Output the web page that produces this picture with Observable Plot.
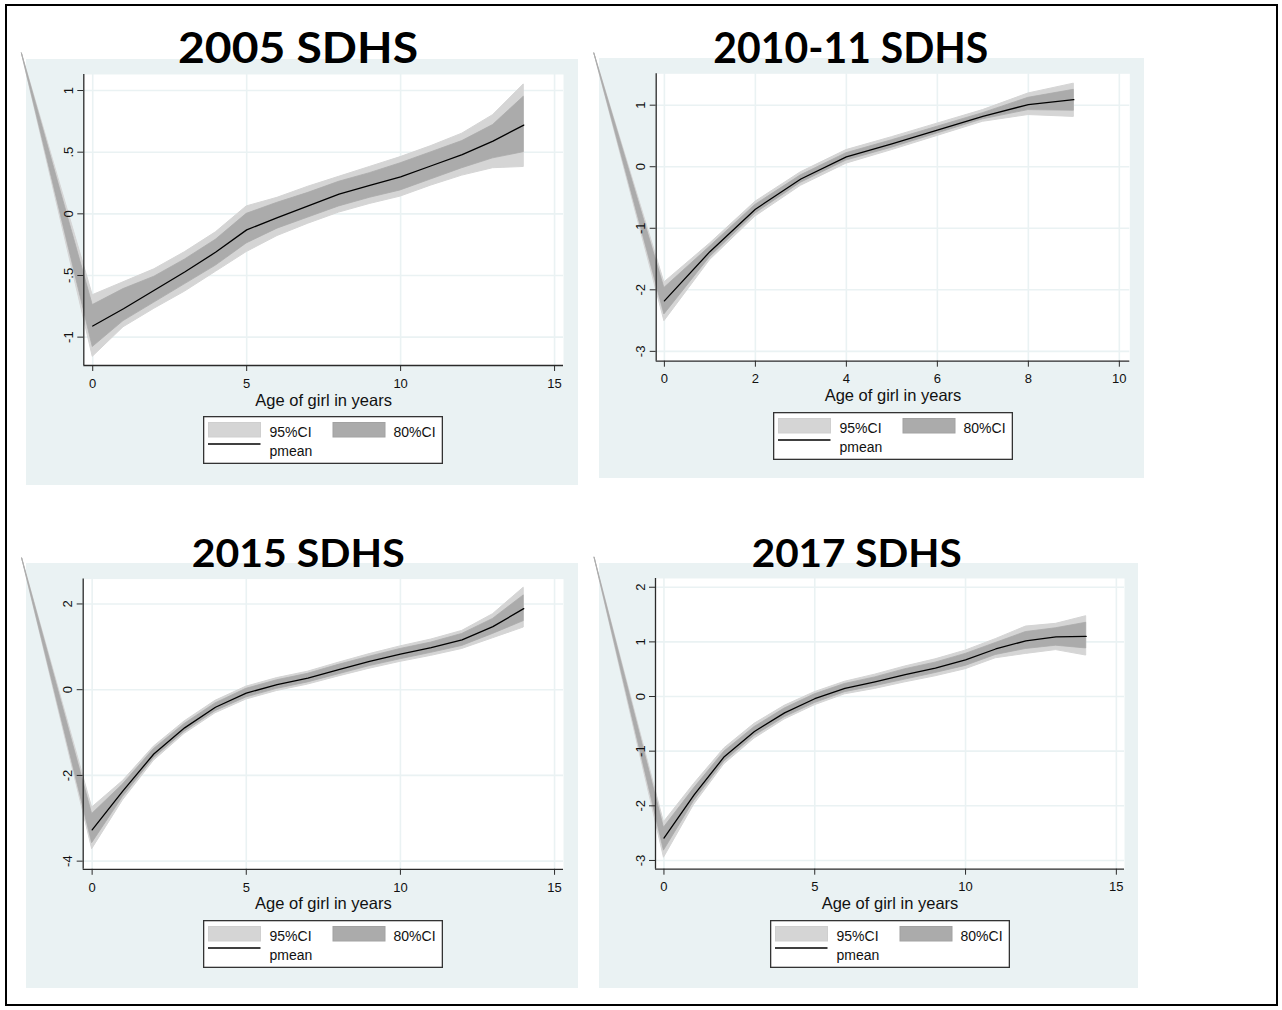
<!DOCTYPE html>
<html>
<head>
<meta charset="utf-8">
<script src="https://cdn.jsdelivr.net/npm/d3@7"></script>
<script src="https://cdn.jsdelivr.net/npm/@observablehq/plot@0.6"></script>
<style>
  html, body { margin: 0; padding: 0; background: #fff; }
  #page { position: relative; width: 1282px; height: 1010px; overflow: hidden;
          font-family: "Liberation Sans", Arial, sans-serif; }
  #border { position: absolute; left: 5px; top: 4px; width: 1273px; height: 1002px;
            border: 2.5px solid #000; box-sizing: border-box; }
  .panel { position: absolute; background: #eaf2f3; }
  .panel > svg { position: absolute; left: 0; top: 0; overflow: visible; }
  .panel > svg.legend { overflow: visible; }
  #titles { position: absolute; left: 0; top: 0; pointer-events: none; }
</style>
</head>
<body>
<div id="page">
  <div id="border"></div>
</div>
<script>
// Posterior mean of the age effect with 80% and 95% credible bands, by survey round.
const xTitle = "Age of girl in years";
const legendLabels = ["95%CI", "80%CI", "pmean"];

// 2005 SDHS
const title05 = "2005 SDHS";
const age05 = [0, 1, 2, 3, 4, 5, 6, 7, 8, 9, 10, 11, 12, 13, 14];
const mean05 = [-0.91, -0.77, -0.62, -0.47, -0.31, -0.13, -0.03, 0.065, 0.16, 0.23, 0.30, 0.39, 0.48, 0.59, 0.72];
const lo95_05 = [-1.16, -0.92, -0.77, -0.63, -0.47, -0.31, -0.18, -0.08, 0.01, 0.08, 0.14, 0.23, 0.31, 0.37, 0.38];
const hi95_05 = [-0.66, -0.555, -0.45, -0.31, -0.15, 0.06, 0.13, 0.22, 0.30, 0.38, 0.46, 0.55, 0.65, 0.80, 1.05];
const lo80_05 = [-1.08, -0.87, -0.72, -0.57, -0.42, -0.24, -0.12, -0.03, 0.06, 0.13, 0.19, 0.28, 0.37, 0.45, 0.50];
const hi80_05 = [-0.74, -0.61, -0.51, -0.37, -0.21, 0.0, 0.09, 0.17, 0.26, 0.33, 0.41, 0.50, 0.59, 0.72, 0.95];
const lead05 = [-2.3, 1.30];
const xTicks05 = [0, 5, 10, 15];
const yTicks05 = [-1, -0.5, 0, 0.5, 1];

// 2010-11 SDHS
const title10 = "2010-11 SDHS";
const age10 = [0, 1, 2, 3, 4, 5, 6, 7, 8, 9];
const mean10 = [-2.18, -1.38, -0.69, -0.20, 0.16, 0.37, 0.595, 0.82, 1.01, 1.09];
const lo95_10 = [-2.51, -1.52, -0.81, -0.31, 0.05, 0.27, 0.50, 0.73, 0.84, 0.81];
const hi95_10 = [-1.88, -1.25, -0.57, -0.09, 0.27, 0.48, 0.70, 0.92, 1.19, 1.35];
const lo80_10 = [-2.40, -1.47, -0.76, -0.26, 0.10, 0.31, 0.54, 0.77, 0.92, 0.91];
const hi80_10 = [-1.97, -1.30, -0.62, -0.14, 0.22, 0.43, 0.65, 0.87, 1.12, 1.25];
const lead10 = [-1.54, 1.84];
const xTicks10 = [0, 2, 4, 6, 8, 10];
const yTicks10 = [-3, -2, -1, 0, 1];

// 2015 SDHS
const title15 = "2015 SDHS";
const age15 = [0, 1, 2, 3, 4, 5, 6, 7, 8, 9, 10, 11, 12, 13, 14];
const mean15 = [-3.27, -2.36, -1.50, -0.89, -0.41, -0.08, 0.12, 0.27, 0.47, 0.66, 0.83, 0.98, 1.16, 1.47, 1.89];
const lo95_15 = [-3.72, -2.58, -1.66, -1.03, -0.55, -0.23, -0.03, 0.12, 0.31, 0.49, 0.65, 0.79, 0.95, 1.20, 1.45];
const hi95_15 = [-2.75, -2.13, -1.33, -0.74, -0.26, 0.07, 0.27, 0.42, 0.63, 0.83, 1.01, 1.17, 1.37, 1.76, 2.38];
const lo80_15 = [-3.58, -2.50, -1.60, -0.98, -0.50, -0.18, 0.02, 0.17, 0.36, 0.55, 0.71, 0.86, 1.02, 1.30, 1.60];
const hi80_15 = [-2.90, -2.21, -1.39, -0.80, -0.32, 0.02, 0.22, 0.37, 0.58, 0.77, 0.95, 1.10, 1.30, 1.65, 2.20];
const lead15 = [-2.27, 3.06];
const xTicks15 = [0, 5, 10, 15];
const yTicks15 = [-4, -2, 0, 2];

// 2017 SDHS
const title17 = "2017 SDHS";
const age17 = [0, 1, 2, 3, 4, 5, 6, 7, 8, 9, 10, 11, 12, 13, 14];
const mean17 = [-2.59, -1.80, -1.10, -0.64, -0.30, -0.04, 0.15, 0.27, 0.40, 0.52, 0.67, 0.87, 1.02, 1.09, 1.10];
const lo95_17 = [-2.95, -1.98, -1.24, -0.77, -0.42, -0.16, 0.04, 0.14, 0.26, 0.37, 0.50, 0.70, 0.78, 0.85, 0.75];
const hi95_17 = [-2.30, -1.60, -0.95, -0.50, -0.17, 0.08, 0.27, 0.40, 0.55, 0.68, 0.84, 1.05, 1.28, 1.33, 1.47];
const lo80_17 = [-2.82, -1.91, -1.19, -0.72, -0.38, -0.12, 0.08, 0.19, 0.31, 0.43, 0.56, 0.76, 0.87, 0.93, 0.88];
const hi80_17 = [-2.40, -1.68, -1.01, -0.56, -0.22, 0.04, 0.23, 0.35, 0.50, 0.62, 0.78, 0.98, 1.18, 1.25, 1.35];
const lead17 = [-2.30, 2.54];
const xTicks17 = [0, 5, 10, 15];
const yTicks17 = [-3, -2, -1, 0, 1, 2];

// Colours (Stata s2color-like scheme)
const BG = "#eaf2f3";
const GRID = "#eaf2f3";
const C95 = "#d5d5d5";
const C80 = "#ababab";
const AXIS = "#2a2a2a";

// Panel geometry: background box on the page, plot frame inside it [left, top, right, bottom]
const panels = [
  {title: title05, age: age05, mean: mean05, lo95: lo95_05, hi95: hi95_05, lo80: lo80_05, hi80: hi80_05, lead: lead05,
   xTicks: xTicks05, yTicks: yTicks05, xDomain: [-0.29, 15.29], yDomain: [-1.23, 1.13],
   left: 26, top: 59, w: 552, h: 426, frame: [57.3, 15, 537, 306], legendTop: 357,
   titleBox: {x: 178, y: 63.3, size: 41.9, width: 240}},
  {title: title10, age: age10, mean: mean10, lo95: lo95_10, hi95: hi95_10, lo80: lo80_10, hi80: hi80_10, lead: lead10,
   xTicks: xTicks10, yTicks: yTicks10, xDomain: [-0.18, 10.23], yDomain: [-3.16, 1.51],
   left: 599, top: 58, w: 545, h: 420, frame: [56.7, 15.3, 530.3, 302.7], legendTop: 353.7,
   titleBox: {x: 713.3, y: 63.3, size: 41.9, width: 275}},
  {title: title15, age: age15, mean: mean15, lo95: lo95_15, hi95: hi95_15, lo80: lo80_15, hi80: hi80_15, lead: lead15,
   xTicks: xTicks15, yTicks: yTicks15, xDomain: [-0.29, 15.29], yDomain: [-4.19, 2.58],
   left: 26, top: 562.7, w: 552, h: 425, frame: [56.7, 15.6, 537, 305.8], legendTop: 357.3,
   titleBox: {x: 191.7, y: 567.3, size: 38.1, width: 213}},
  {title: title17, age: age17, mean: mean17, lo95: lo95_17, hi95: hi95_17, lo80: lo80_17, hi80: hi80_17, lead: lead17,
   xTicks: xTicks17, yTicks: yTicks17, xDomain: [-0.28, 15.27], yDomain: [-3.16, 2.16],
   left: 599, top: 563.3, w: 539, h: 425, frame: [56, 15, 525, 305.7], legendTop: 356.7,
   titleBox: {x: 751.7, y: 566.7, size: 38.1, width: 210}}
];

// Stata-style number labels: ".5", "-.5"
const stataFmt = d => d === 0 ? "0" : String(d).replace(/^(-?)0\./, "$1.");

const page = document.getElementById("page");

function drawPanel(p) {
  const rows = p.age.map((a, i) => ({age: a, mean: p.mean[i], lo95: p.lo95[i], hi95: p.hi95[i], lo80: p.lo80[i], hi80: p.hi80[i]}));
  // the band series starts from a leading point where both limits meet
  const bandRows = [{age: p.lead[0], lo95: p.lead[1], hi95: p.lead[1], lo80: p.lead[1], hi80: p.lead[1]}, ...rows];

  const svgH = 350;
  const [fl, ft, fr, fb] = p.frame;

  const chart = Plot.plot({
    width: p.w,
    height: svgH,
    marginLeft: fl,
    marginTop: ft,
    marginRight: p.w - fr,
    marginBottom: svgH - fb,
    x: {domain: p.xDomain},
    y: {domain: p.yDomain},
    style: {background: "transparent", overflow: "visible", color: "#111",
            fontFamily: '"Liberation Sans", Arial, sans-serif', fontSize: "13px"},
    marks: [
      Plot.frame({fill: "white", stroke: null}),
      Plot.gridX({ticks: p.xTicks, stroke: GRID, strokeOpacity: 1, strokeWidth: 1.6}),
      Plot.gridY({ticks: p.yTicks, stroke: GRID, strokeOpacity: 1, strokeWidth: 1.6}),
      Plot.areaY(bandRows, {x: "age", y1: "lo95", y2: "hi95", fill: C95, fillOpacity: 1, stroke: C95, strokeWidth: 1}),
      Plot.areaY(bandRows, {x: "age", y1: "lo80", y2: "hi80", fill: C80, fillOpacity: 1, stroke: C80, strokeWidth: 0.8}),
      Plot.lineY(rows, {x: "age", y: "mean", stroke: "#000", strokeWidth: 1.3}),
      Plot.ruleX([p.xDomain[0]], {stroke: AXIS, strokeWidth: 1.3}),
      Plot.ruleY([p.yDomain[0]], {stroke: AXIS, strokeWidth: 1.3}),
      Plot.axisX({ticks: p.xTicks, tickSize: 6, tickPadding: 7, label: null, stroke: AXIS, fontSize: 13}),
      Plot.axisY({ticks: p.yTicks, tickSize: 6, tickPadding: 5, tickRotate: -90, tickFormat: stataFmt,
                  label: null, stroke: AXIS, fontSize: 13}),
      Plot.text([xTitle], {text: d => d, frameAnchor: "bottom", dy: 40, lineAnchor: "bottom",
                           fontSize: 16.5, fill: "#111"})
    ]
  });

  const box = document.createElement("div");
  box.className = "panel";
  Object.assign(box.style, {left: p.left + "px", top: p.top + "px", width: p.w + "px", height: p.h + "px"});
  box.appendChild(chart);

  // legend box centred under the plot frame
  const lw = 240, lh = 48;
  const lx = (fl + fr) / 2 - lw / 2;
  const leg = d3.create("svg")
    .attr("class", "legend")
    .attr("width", lw).attr("height", lh)
    .style("position", "absolute")
    .style("left", lx + "px").style("top", p.legendTop + "px")
    .style("font-family", '"Liberation Sans", Arial, sans-serif')
    .style("font-size", "14px");
  leg.append("rect").attr("x", 0.65).attr("y", 0.65).attr("width", lw - 1.3).attr("height", lh - 1.3)
    .attr("fill", "#fff").attr("stroke", "#333").attr("stroke-width", 1.3);
  leg.append("rect").attr("x", 5.5).attr("y", 6.5).attr("width", 52).attr("height", 14.5)
    .attr("fill", C95).attr("stroke", "#cfcfcf").attr("stroke-width", 1);
  leg.append("text").attr("x", 66.5).attr("y", 20.5).attr("fill", "#111").text(legendLabels[0]);
  leg.append("rect").attr("x", 130).attr("y", 6.5).attr("width", 52).attr("height", 14.5)
    .attr("fill", C80).attr("stroke", "#a2a2a2").attr("stroke-width", 1);
  leg.append("text").attr("x", 190.5).attr("y", 20.5).attr("fill", "#111").text(legendLabels[1]);
  leg.append("line").attr("x1", 5).attr("x2", 57.5).attr("y1", 28).attr("y2", 28)
    .attr("stroke", "#000").attr("stroke-width", 1.3);
  leg.append("text").attr("x", 66.5).attr("y", 40.3).attr("fill", "#111").text(legendLabels[2]);
  box.appendChild(leg.node());

  page.appendChild(box);
}

panels.forEach(drawPanel);

// Large bold headings over each panel
const titles = d3.create("svg").attr("id", "titles").attr("width", 1282).attr("height", 1010);
panels.forEach(p => {
  const t = p.titleBox;
  titles.append("text")
    .attr("x", t.x).attr("y", t.y)
    .attr("font-family", 'Lato, "Open Sans", sans-serif')
    .attr("font-weight", 700)
    .attr("font-size", t.size)
    .attr("textLength", t.width)
    .attr("lengthAdjust", "spacingAndGlyphs")
    .attr("fill", "#000")
    .text(p.title);
});
page.appendChild(titles.node());
</script>
</body>
</html>
